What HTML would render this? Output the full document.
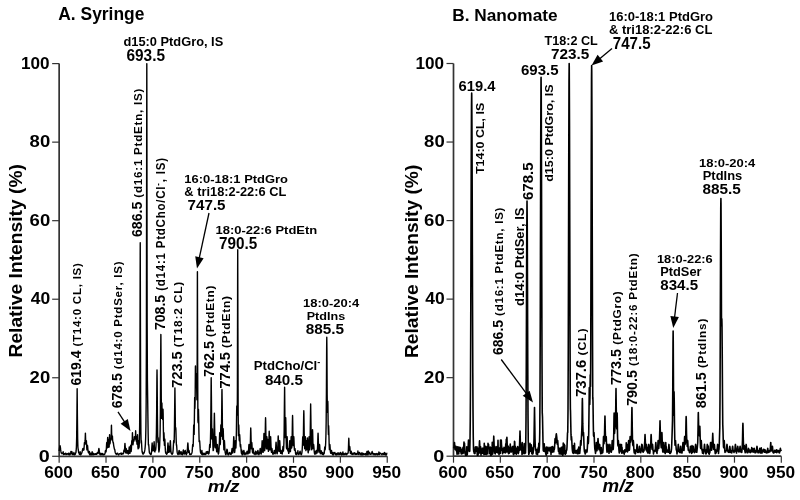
<!DOCTYPE html><html><head><meta charset="utf-8"><style>

html,body{margin:0;padding:0;background:#fff;width:800px;height:500px;overflow:hidden;}
.t{position:absolute;left:0;top:0;white-space:nowrap;font-family:"Liberation Sans",sans-serif;font-weight:bold;line-height:1;color:#000;transform-origin:0 0;}
.sp{font-size:0.7em;position:relative;top:-0.55em;}
svg{position:absolute;left:0;top:0;}

</style></head><body>
<svg width="800" height="500" viewBox="0 0 800 500">
<path d="M59.15 63.60 L59.15 456.30 L387.24 456.30" fill="none" stroke="#333" stroke-width="1.7"/>
<line x1="52.15" y1="456.30" x2="59.15" y2="456.30" stroke="#333" stroke-width="1.2"/>
<line x1="52.15" y1="377.76" x2="59.15" y2="377.76" stroke="#333" stroke-width="1.2"/>
<line x1="52.15" y1="299.22" x2="59.15" y2="299.22" stroke="#333" stroke-width="1.2"/>
<line x1="52.15" y1="220.68" x2="59.15" y2="220.68" stroke="#333" stroke-width="1.2"/>
<line x1="52.15" y1="142.14" x2="59.15" y2="142.14" stroke="#333" stroke-width="1.2"/>
<line x1="52.15" y1="63.60" x2="59.15" y2="63.60" stroke="#333" stroke-width="1.2"/>
<line x1="59.15" y1="456.30" x2="59.15" y2="462.80" stroke="#333" stroke-width="1.2"/>
<line x1="106.02" y1="456.30" x2="106.02" y2="462.80" stroke="#333" stroke-width="1.2"/>
<line x1="152.89" y1="456.30" x2="152.89" y2="462.80" stroke="#333" stroke-width="1.2"/>
<line x1="199.76" y1="456.30" x2="199.76" y2="462.80" stroke="#333" stroke-width="1.2"/>
<line x1="246.63" y1="456.30" x2="246.63" y2="462.80" stroke="#333" stroke-width="1.2"/>
<line x1="293.50" y1="456.30" x2="293.50" y2="462.80" stroke="#333" stroke-width="1.2"/>
<line x1="340.37" y1="456.30" x2="340.37" y2="462.80" stroke="#333" stroke-width="1.2"/>
<line x1="387.24" y1="456.30" x2="387.24" y2="462.80" stroke="#333" stroke-width="1.2"/>
<path d="M453.50 63.50 L453.50 456.20 L781.31 456.20" fill="none" stroke="#333" stroke-width="1.7"/>
<line x1="446.50" y1="456.20" x2="453.50" y2="456.20" stroke="#333" stroke-width="1.2"/>
<line x1="446.50" y1="377.66" x2="453.50" y2="377.66" stroke="#333" stroke-width="1.2"/>
<line x1="446.50" y1="299.12" x2="453.50" y2="299.12" stroke="#333" stroke-width="1.2"/>
<line x1="446.50" y1="220.58" x2="453.50" y2="220.58" stroke="#333" stroke-width="1.2"/>
<line x1="446.50" y1="142.04" x2="453.50" y2="142.04" stroke="#333" stroke-width="1.2"/>
<line x1="446.50" y1="63.50" x2="453.50" y2="63.50" stroke="#333" stroke-width="1.2"/>
<line x1="453.50" y1="456.20" x2="453.50" y2="462.70" stroke="#333" stroke-width="1.2"/>
<line x1="500.33" y1="456.20" x2="500.33" y2="462.70" stroke="#333" stroke-width="1.2"/>
<line x1="547.16" y1="456.20" x2="547.16" y2="462.70" stroke="#333" stroke-width="1.2"/>
<line x1="593.99" y1="456.20" x2="593.99" y2="462.70" stroke="#333" stroke-width="1.2"/>
<line x1="640.82" y1="456.20" x2="640.82" y2="462.70" stroke="#333" stroke-width="1.2"/>
<line x1="687.65" y1="456.20" x2="687.65" y2="462.70" stroke="#333" stroke-width="1.2"/>
<line x1="734.48" y1="456.20" x2="734.48" y2="462.70" stroke="#333" stroke-width="1.2"/>
<line x1="781.31" y1="456.20" x2="781.31" y2="462.70" stroke="#333" stroke-width="1.2"/>
<path d="M59.15 451.00 L59.40 449.21 L59.65 447.21 L59.90 445.83 L59.99 445.70 L60.15 446.05 L60.40 447.69 L60.65 449.69 L60.90 451.38 L61.15 452.62 L61.40 453.17 L61.65 453.27 L61.90 453.73 L62.15 453.34 L62.40 453.16 L62.43 453.16 L62.65 453.27 L62.90 453.62 L63.15 451.78 L63.40 453.94 L63.65 454.60 L63.90 453.41 L64.15 454.34 L64.40 453.67 L64.65 454.18 L64.90 453.74 L65.15 453.89 L65.40 453.43 L65.65 453.12 L65.90 453.52 L66.15 454.62 L66.40 453.68 L66.65 454.26 L66.90 454.03 L67.15 454.00 L67.40 453.92 L67.65 453.68 L67.90 453.88 L68.15 454.62 L68.40 453.19 L68.65 453.97 L68.90 454.52 L69.15 453.24 L69.40 454.11 L69.65 453.96 L69.90 454.92 L70.15 453.48 L70.40 453.62 L70.65 454.01 L70.90 451.44 L71.15 453.92 L71.40 453.20 L71.65 451.92 L71.81 451.59 L71.90 451.72 L72.15 452.88 L72.40 454.08 L72.65 454.61 L72.90 453.40 L73.15 453.52 L73.40 454.47 L73.65 453.74 L73.90 452.52 L74.15 454.48 L74.40 453.82 L74.65 454.80 L74.90 453.99 L75.15 454.44 L75.40 454.12 L75.65 452.87 L75.90 452.61 L76.15 450.70 L76.40 446.94 L76.65 438.32 L76.90 416.19 L77.15 388.76 L77.15 388.76 L77.40 416.69 L77.65 438.52 L77.90 447.03 L78.15 449.26 L78.18 449.23 L78.40 450.52 L78.65 452.78 L78.90 452.87 L79.15 453.22 L79.40 454.38 L79.65 454.38 L79.90 453.61 L80.15 451.72 L80.40 454.86 L80.65 453.23 L80.90 454.62 L81.15 453.20 L81.40 453.82 L81.65 453.23 L81.90 452.47 L82.15 451.53 L82.40 450.43 L82.65 449.34 L82.90 448.59 L83.05 448.45 L83.15 448.50 L83.40 449.13 L83.65 450.17 L83.90 449.84 L84.15 446.73 L84.40 442.78 L84.46 442.56 L84.65 444.50 L84.90 443.65 L85.15 440.15 L85.40 433.13 L85.40 433.13 L85.65 440.37 L85.90 443.68 L86.15 443.12 L86.33 440.59 L86.40 440.96 L86.65 446.22 L86.90 449.87 L87.15 447.86 L87.40 445.43 L87.46 445.30 L87.65 446.44 L87.90 449.49 L88.15 451.91 L88.40 452.51 L88.65 451.60 L88.68 451.59 L88.90 452.22 L89.15 453.53 L89.40 451.36 L89.65 454.76 L89.90 452.61 L90.15 453.18 L90.40 454.72 L90.65 454.50 L90.90 454.74 L91.15 454.26 L91.40 453.32 L91.65 454.48 L91.90 454.75 L92.15 451.77 L92.40 454.40 L92.65 454.13 L92.90 454.81 L93.15 453.21 L93.40 454.73 L93.65 453.83 L93.90 453.97 L94.15 453.76 L94.40 453.97 L94.65 454.49 L94.90 454.43 L95.15 454.13 L95.40 453.79 L95.65 454.24 L95.90 454.35 L96.15 453.43 L96.40 454.39 L96.65 453.96 L96.90 453.87 L97.15 453.84 L97.40 452.75 L97.58 452.37 L97.65 452.43 L97.90 453.32 L98.15 453.45 L98.40 451.88 L98.65 449.71 L98.90 448.45 L98.90 448.45 L99.15 449.78 L99.40 451.95 L99.65 453.49 L99.90 454.41 L100.15 454.68 L100.40 454.87 L100.65 453.33 L100.90 453.32 L101.15 453.61 L101.40 454.61 L101.65 454.65 L101.90 453.75 L102.15 454.81 L102.40 453.50 L102.65 453.97 L102.90 454.12 L103.15 454.33 L103.40 454.88 L103.65 454.19 L103.90 454.82 L104.15 454.68 L104.40 454.47 L104.65 454.22 L104.90 453.78 L105.15 452.40 L105.40 450.81 L105.55 450.41 L105.65 450.59 L105.90 452.05 L106.15 451.30 L106.40 447.83 L106.65 443.40 L106.77 442.56 L106.90 443.54 L107.15 448.01 L107.40 443.99 L107.65 437.79 L107.71 437.45 L107.90 440.70 L108.15 447.33 L108.40 444.73 L108.64 439.81 L108.65 439.81 L108.90 445.03 L109.15 447.02 L109.40 438.82 L109.58 434.70 L109.65 435.39 L109.90 443.73 L110.15 442.71 L110.40 440.26 L110.52 438.63 L110.65 440.54 L110.90 439.74 L111.15 439.13 L111.40 426.18 L111.46 425.28 L111.64 432.89 L111.65 433.26 L111.90 438.76 L112.15 439.15 L112.39 435.88 L112.40 435.88 L112.65 440.61 L112.90 441.62 L113.15 442.76 L113.33 442.56 L113.40 442.84 L113.65 445.29 L113.90 446.58 L114.15 447.85 L114.40 449.06 L114.64 449.23 L114.65 449.23 L114.90 450.44 L115.15 452.13 L115.40 452.93 L115.65 453.50 L115.90 453.96 L116.15 453.41 L116.40 453.92 L116.65 454.42 L116.90 453.50 L117.15 453.61 L117.40 453.22 L117.65 453.21 L117.90 454.04 L118.15 454.38 L118.40 454.29 L118.65 454.92 L118.90 454.13 L119.15 454.22 L119.40 453.72 L119.65 453.78 L119.90 453.69 L120.15 453.87 L120.40 453.46 L120.65 453.18 L120.90 453.45 L121.15 453.61 L121.40 454.39 L121.65 453.83 L121.90 453.07 L122.15 454.17 L122.40 453.40 L122.65 453.63 L122.90 453.60 L123.15 453.61 L123.40 453.78 L123.65 452.41 L123.90 450.39 L124.02 450.02 L124.15 450.48 L124.40 451.56 L124.65 447.80 L124.90 443.56 L124.95 443.34 L125.15 445.61 L125.40 450.16 L125.65 452.81 L125.90 450.78 L126.15 448.47 L126.17 448.45 L126.40 450.20 L126.65 452.84 L126.90 453.25 L127.15 453.10 L127.40 451.17 L127.58 450.41 L127.65 450.54 L127.90 451.84 L128.15 453.92 L128.40 454.02 L128.65 453.30 L128.90 450.94 L129.15 447.55 L129.27 446.88 L129.40 447.72 L129.65 451.13 L129.90 453.39 L130.15 451.97 L130.40 448.56 L130.65 445.34 L130.67 445.30 L130.90 447.76 L131.15 451.47 L131.40 448.92 L131.65 442.72 L131.80 440.59 L131.90 441.66 L132.15 443.65 L132.40 433.37 L132.46 432.74 L132.65 438.90 L132.90 444.83 L133.15 443.71 L133.39 439.81 L133.40 439.82 L133.65 441.63 L133.90 440.73 L134.15 439.96 L134.33 436.67 L134.40 437.53 L134.65 438.92 L134.90 438.68 L135.08 438.63 L135.15 438.64 L135.40 438.79 L135.64 430.77 L135.65 430.79 L135.90 439.68 L136.15 440.38 L136.40 441.18 L136.58 436.67 L136.65 437.54 L136.90 443.23 L137.15 444.34 L137.40 437.13 L137.52 434.70 L137.65 437.76 L137.90 447.17 L138.15 448.81 L138.40 442.70 L138.55 440.59 L138.65 441.68 L138.90 447.96 L139.15 446.63 L139.40 440.47 L139.65 426.36 L139.90 385.38 L140.15 267.21 L140.24 242.67 L140.40 312.66 L140.65 404.00 L140.90 432.36 L141.15 442.95 L141.36 440.59 L141.40 440.71 L141.65 444.94 L141.90 449.55 L142.15 452.21 L142.40 451.56 L142.65 453.88 L142.90 453.86 L143.15 452.89 L143.40 454.13 L143.65 453.37 L143.90 453.33 L144.15 452.74 L144.40 451.97 L144.65 450.92 L144.90 449.43 L145.15 447.24 L145.40 443.82 L145.65 438.06 L145.90 427.33 L146.15 404.17 L146.40 342.77 L146.65 162.55 L146.80 63.60 L146.90 119.49 L147.08 280.48 L147.15 323.02 L147.40 379.70 L147.64 396.50 L147.65 397.21 L147.90 416.87 L148.15 433.55 L148.40 444.94 L148.65 444.54 L148.67 444.52 L148.90 446.78 L149.15 450.53 L149.40 452.62 L149.65 453.18 L149.90 453.45 L150.15 453.98 L150.40 453.46 L150.65 454.61 L150.90 454.00 L151.15 454.25 L151.40 453.03 L151.65 450.62 L151.90 446.21 L152.14 442.95 L152.15 442.96 L152.40 446.62 L152.65 450.88 L152.90 449.85 L153.15 446.51 L153.17 446.48 L153.40 449.15 L153.65 450.48 L153.90 445.20 L154.11 441.77 L154.15 441.94 L154.40 447.24 L154.65 451.59 L154.90 451.91 L155.15 448.82 L155.23 448.45 L155.40 449.74 L155.65 450.23 L155.90 447.52 L156.15 442.62 L156.40 432.86 L156.65 411.89 L156.90 377.28 L157.01 369.91 L157.15 379.88 L157.40 414.29 L157.65 433.99 L157.90 442.34 L158.14 437.84 L158.15 437.85 L158.40 442.94 L158.65 448.81 L158.90 451.96 L159.15 450.70 L159.40 448.75 L159.65 445.60 L159.90 438.33 L160.01 436.23 L160.15 429.63 L160.40 407.44 L160.65 363.19 L160.86 334.56 L160.90 336.08 L161.15 380.54 L161.40 416.91 L161.65 418.33 L161.89 402.89 L161.90 402.94 L162.15 413.12 L162.17 413.10 L162.40 414.68 L162.65 419.55 L162.90 412.38 L163.01 409.18 L163.15 413.62 L163.40 430.66 L163.65 440.70 L163.90 433.08 L163.95 432.74 L164.15 437.02 L164.40 445.25 L164.65 440.85 L164.79 439.02 L164.90 440.03 L165.15 446.19 L165.40 450.65 L165.65 452.92 L165.90 453.27 L166.15 453.74 L166.40 453.29 L166.65 454.25 L166.90 453.52 L167.15 453.57 L167.40 451.70 L167.65 448.06 L167.90 443.44 L167.98 442.95 L168.15 444.77 L168.40 449.56 L168.65 452.35 L168.90 448.78 L169.11 446.48 L169.15 446.61 L169.40 450.20 L169.65 451.89 L169.90 448.52 L170.15 442.91 L170.33 440.59 L170.40 441.07 L170.65 446.43 L170.90 450.80 L171.15 453.04 L171.40 453.45 L171.65 453.84 L171.90 453.95 L172.15 454.31 L172.40 453.21 L172.65 453.69 L172.90 452.29 L173.15 449.70 L173.40 445.16 L173.65 440.77 L173.70 440.59 L173.90 443.01 L174.15 442.11 L174.40 431.34 L174.65 409.71 L174.90 388.13 L174.92 387.97 L175.15 405.48 L175.40 428.89 L175.65 429.20 L175.76 427.63 L175.90 429.90 L176.15 439.27 L176.40 445.16 L176.51 444.52 L176.65 445.45 L176.90 449.30 L177.15 452.17 L177.40 453.21 L177.65 453.97 L177.90 453.58 L178.15 454.52 L178.40 453.68 L178.65 452.93 L178.90 451.30 L179.14 450.41 L179.15 450.41 L179.40 451.47 L179.65 453.08 L179.90 454.23 L180.15 454.09 L180.40 453.86 L180.65 452.97 L180.90 451.77 L181.01 451.59 L181.15 451.86 L181.40 453.11 L181.65 454.24 L181.90 454.34 L182.15 454.68 L182.40 454.68 L182.65 453.68 L182.90 452.51 L183.15 450.76 L183.36 450.02 L183.40 450.06 L183.65 451.37 L183.90 453.06 L184.15 454.20 L184.40 453.18 L184.65 453.45 L184.90 451.92 L185.15 450.53 L185.23 450.41 L185.40 450.90 L185.65 452.52 L185.90 453.86 L186.15 454.35 L186.40 454.68 L186.65 453.28 L186.90 453.71 L187.15 452.21 L187.40 449.43 L187.65 445.09 L187.85 442.95 L187.90 443.07 L188.15 446.74 L188.40 450.62 L188.65 452.36 L188.90 450.58 L188.98 450.41 L189.15 451.10 L189.40 453.03 L189.65 454.36 L189.90 454.62 L190.15 454.16 L190.40 454.48 L190.65 453.99 L190.90 454.21 L191.15 454.27 L191.40 453.96 L191.65 453.43 L191.90 452.75 L192.15 451.64 L192.40 448.42 L192.65 444.85 L192.73 444.52 L192.90 445.90 L193.15 446.15 L193.40 438.15 L193.65 426.91 L193.76 424.88 L193.90 427.98 L194.15 434.39 L194.40 417.01 L194.65 398.15 L194.70 397.40 L194.90 408.38 L195.15 398.87 L195.40 367.30 L195.45 365.98 L195.65 384.81 L195.90 387.77 L196.15 379.15 L196.29 377.76 L196.38 373.83 L196.40 373.95 L196.65 386.24 L196.90 399.78 L197.15 375.09 L197.40 272.63 L197.42 271.73 L197.65 362.94 L197.90 420.73 L198.15 422.72 L198.40 409.66 L198.45 409.18 L198.65 416.58 L198.90 431.90 L199.15 441.78 L199.40 441.94 L199.57 440.59 L199.65 440.88 L199.90 444.57 L200.15 448.65 L200.40 451.34 L200.65 452.94 L200.90 451.89 L201.15 453.35 L201.40 453.79 L201.65 454.32 L201.90 450.38 L202.15 454.25 L202.40 454.62 L202.65 454.75 L202.90 453.21 L203.15 453.54 L203.40 454.09 L203.65 453.56 L203.90 454.58 L204.15 453.97 L204.40 453.29 L204.45 454.34 L204.65 454.42 L204.90 454.50 L205.15 454.60 L205.40 453.75 L205.65 454.42 L205.90 453.21 L206.15 452.01 L206.40 453.81 L206.65 453.31 L206.90 451.71 L207.15 453.19 L207.40 452.78 L207.65 451.68 L207.73 451.59 L207.90 451.99 L208.15 453.29 L208.40 454.02 L208.65 453.52 L208.90 453.65 L209.15 452.53 L209.40 449.05 L209.65 444.70 L209.70 444.52 L209.90 447.20 L210.15 447.36 L210.40 442.05 L210.65 431.15 L210.90 407.95 L211.15 378.94 L211.20 377.76 L211.40 395.66 L211.65 424.43 L211.90 438.93 L212.15 437.96 L212.40 428.85 L212.41 428.81 L212.65 436.57 L212.90 446.02 L213.15 450.62 L213.40 450.33 L213.65 446.64 L213.90 439.07 L214.15 424.34 L214.38 413.10 L214.40 413.18 L214.65 426.68 L214.90 440.43 L215.15 447.28 L215.40 447.81 L215.65 441.26 L215.88 436.67 L215.90 436.70 L216.15 442.27 L216.40 448.45 L216.65 451.74 L216.90 450.59 L217.15 446.86 L217.38 444.52 L217.40 444.53 L217.65 447.40 L217.90 450.98 L218.15 453.10 L218.40 454.14 L218.65 453.16 L218.90 451.43 L219.15 448.09 L219.40 441.57 L219.65 433.49 L219.73 432.74 L219.90 436.14 L220.15 444.56 L220.40 442.73 L220.65 431.40 L220.85 424.88 L220.90 425.35 L221.15 436.35 L221.40 435.06 L221.65 416.73 L221.90 391.96 L221.98 389.54 L222.15 400.41 L222.40 425.36 L222.65 439.30 L222.90 438.69 L223.15 429.17 L223.19 428.81 L223.40 434.67 L223.65 444.53 L223.90 449.77 L224.15 445.00 L224.40 440.61 L224.41 440.59 L224.65 444.35 L224.90 449.56 L225.15 452.42 L225.40 453.29 L225.65 454.66 L225.90 454.71 L226.15 453.94 L226.40 452.65 L226.65 450.75 L226.90 449.28 L226.94 449.23 L227.15 450.06 L227.40 450.71 L227.65 453.55 L227.90 454.48 L228.15 453.32 L228.40 454.85 L228.65 453.18 L228.90 454.23 L229.15 453.52 L229.40 453.50 L229.65 452.51 L229.76 452.37 L229.90 452.61 L230.15 453.32 L230.40 454.17 L230.65 454.36 L230.90 453.88 L231.15 454.43 L231.40 453.53 L231.65 452.22 L231.90 449.66 L232.10 448.45 L232.15 448.53 L232.40 450.73 L232.65 452.99 L232.90 452.68 L233.15 450.32 L233.40 445.65 L233.65 438.55 L233.79 436.67 L233.90 437.97 L234.15 445.00 L234.40 449.98 L234.65 452.51 L234.90 450.37 L235.15 444.92 L235.38 440.59 L235.40 440.63 L235.65 445.92 L235.90 448.03 L236.15 442.42 L236.40 430.75 L236.65 411.48 L236.79 406.03 L236.90 409.84 L237.15 415.06 L237.35 401.57 L237.40 389.30 L237.65 270.25 L237.72 249.74 L237.90 327.77 L238.15 411.14 L238.40 435.66 L238.65 426.74 L238.76 424.88 L238.90 428.17 L239.15 439.53 L239.40 440.78 L239.65 434.88 L239.69 434.70 L239.90 438.22 L240.15 445.22 L240.40 446.82 L240.63 444.52 L240.65 444.54 L240.90 447.44 L241.15 451.01 L241.40 453.11 L241.65 453.65 L241.90 450.19 L242.15 454.87 L242.40 451.55 L242.65 454.78 L242.90 454.69 L243.15 453.86 L243.40 452.50 L243.65 450.89 L243.82 450.41 L243.90 450.53 L244.15 451.93 L244.40 453.28 L244.65 454.02 L244.90 454.74 L245.15 453.75 L245.40 454.16 L245.65 453.00 L245.90 453.69 L246.15 453.24 L246.40 453.93 L246.65 453.18 L246.90 451.76 L247.10 451.19 L247.15 451.24 L247.40 452.33 L247.65 453.70 L247.90 453.93 L248.15 453.85 L248.40 452.16 L248.65 448.88 L248.90 444.87 L248.97 444.52 L249.15 446.27 L249.40 450.47 L249.65 453.00 L249.90 451.74 L250.15 448.45 L250.40 441.37 L250.65 430.07 L250.75 428.03 L250.90 431.72 L251.15 442.91 L251.40 448.81 L251.65 443.84 L251.79 442.56 L251.90 443.50 L252.15 448.43 L252.40 451.90 L252.65 452.94 L252.90 450.64 L253.15 448.51 L253.19 448.45 L253.40 449.74 L253.65 452.28 L253.90 453.91 L254.15 452.77 L254.40 453.27 L254.65 453.83 L254.90 454.50 L255.15 454.55 L255.40 453.18 L255.65 451.16 L255.90 451.74 L256.00 451.59 L256.15 451.89 L256.40 453.15 L256.65 454.02 L256.90 453.86 L257.15 454.10 L257.40 452.88 L257.65 451.25 L257.88 450.41 L257.90 450.42 L258.15 451.52 L258.40 453.13 L258.65 454.25 L258.90 454.74 L259.15 454.02 L259.40 453.30 L259.65 453.15 L259.90 450.97 L260.15 448.63 L260.22 448.45 L260.40 449.43 L260.65 452.01 L260.90 453.76 L261.15 454.08 L261.40 452.82 L261.65 450.36 L261.90 445.65 L262.15 440.74 L262.19 440.59 L262.40 443.69 L262.65 449.11 L262.90 452.19 L263.15 452.38 L263.40 449.45 L263.65 443.19 L263.90 434.33 L263.97 433.52 L264.15 437.72 L264.40 446.41 L264.65 450.77 L264.90 447.03 L265.15 439.03 L265.40 424.09 L265.56 417.82 L265.65 419.68 L265.90 434.87 L266.15 445.08 L266.40 448.82 L266.65 441.96 L266.88 436.67 L266.90 436.73 L267.15 443.44 L267.40 448.72 L267.65 442.16 L267.81 439.41 L267.90 440.23 L268.15 446.90 L268.40 451.38 L268.65 448.21 L268.90 441.22 L269.15 431.97 L269.22 431.17 L269.40 435.46 L269.65 444.80 L269.90 449.97 L270.15 448.35 L270.40 441.58 L270.63 436.67 L270.65 436.73 L270.90 443.03 L271.15 449.19 L271.40 452.25 L271.65 450.62 L271.90 448.50 L271.94 448.45 L272.15 449.76 L272.40 452.30 L272.65 453.64 L272.90 454.30 L273.15 454.03 L273.40 453.41 L273.65 453.82 L273.90 452.77 L274.15 450.85 L274.28 450.41 L274.40 450.75 L274.65 452.65 L274.90 453.43 L275.15 453.82 L275.40 452.24 L275.65 449.11 L275.90 444.03 L276.06 442.16 L276.15 442.72 L276.40 447.64 L276.65 451.47 L276.90 453.43 L277.15 453.87 L277.40 452.48 L277.65 449.71 L277.90 444.01 L278.15 436.51 L278.22 435.88 L278.40 439.40 L278.65 446.98 L278.90 451.17 L279.15 451.23 L279.40 446.85 L279.65 441.08 L279.72 440.59 L279.90 443.30 L280.15 449.13 L280.40 452.19 L280.65 453.40 L280.90 451.52 L281.13 450.41 L281.15 450.42 L281.40 451.91 L281.65 453.16 L281.90 453.35 L282.15 454.08 L282.40 452.73 L282.65 450.50 L282.90 447.02 L283.00 446.48 L283.15 447.57 L283.40 451.12 L283.65 448.48 L283.90 443.10 L284.15 431.04 L284.40 404.45 L284.60 387.18 L284.65 388.99 L284.90 418.29 L285.15 437.66 L285.40 434.01 L285.65 419.10 L285.72 417.82 L285.90 425.05 L286.15 439.70 L286.40 447.34 L286.65 448.78 L286.90 441.89 L287.13 436.67 L287.15 436.75 L287.40 443.51 L287.65 449.66 L287.90 450.95 L288.15 448.45 L288.16 448.45 L288.40 450.77 L288.65 453.42 L288.90 453.20 L289.15 451.11 L289.40 447.01 L289.65 441.43 L289.75 440.59 L289.90 442.35 L290.15 448.02 L290.40 451.64 L290.65 448.26 L290.90 441.97 L291.15 436.67 L291.16 436.67 L291.40 441.57 L291.65 448.01 L291.90 446.39 L292.15 437.83 L292.40 421.92 L292.56 415.46 L292.65 417.56 L292.90 433.73 L293.15 444.48 L293.40 445.49 L293.65 438.40 L293.78 436.67 L293.90 438.11 L294.15 445.17 L294.40 450.07 L294.65 450.25 L294.90 448.45 L294.91 448.45 L295.15 450.12 L295.40 451.18 L295.65 454.07 L295.90 454.14 L296.15 454.13 L296.40 454.58 L296.65 453.20 L296.90 453.07 L297.15 452.44 L297.25 452.37 L297.40 452.52 L297.65 453.24 L297.90 450.60 L298.15 454.52 L298.40 454.15 L298.65 453.27 L298.90 453.28 L299.15 454.03 L299.40 453.97 L299.65 452.98 L299.90 451.59 L300.06 451.19 L300.15 451.32 L300.40 452.55 L300.65 453.49 L300.90 454.12 L301.15 454.74 L301.40 454.62 L301.65 453.90 L301.90 452.63 L302.15 450.23 L302.40 445.47 L302.65 438.37 L302.78 436.67 L302.90 438.13 L303.15 445.20 L303.40 435.63 L303.65 417.87 L303.81 410.75 L303.90 413.16 L304.15 431.21 L304.40 443.15 L304.65 448.71 L304.90 447.39 L305.15 439.73 L305.31 436.67 L305.40 437.71 L305.65 445.49 L305.90 450.63 L306.15 446.37 L306.40 440.74 L306.44 440.59 L306.65 444.45 L306.90 449.19 L307.15 442.68 L307.37 437.84 L307.40 437.93 L307.65 444.34 L307.90 450.09 L308.15 452.81 L308.40 451.52 L308.65 447.38 L308.90 439.72 L309.06 436.67 L309.15 437.72 L309.40 445.50 L309.65 449.91 L309.90 445.95 L310.15 437.71 L310.40 420.54 L310.65 404.08 L310.65 404.07 L310.90 419.75 L311.15 437.29 L311.40 445.76 L311.65 449.81 L311.90 448.79 L312.15 442.45 L312.40 432.19 L312.53 429.60 L312.65 431.89 L312.90 442.15 L313.15 448.64 L313.40 447.20 L313.65 444.52 L313.65 444.52 L313.90 447.06 L314.15 450.74 L314.40 452.97 L314.65 454.16 L314.90 452.82 L315.15 453.99 L315.40 453.65 L315.65 451.13 L315.90 453.91 L316.15 452.25 L316.40 450.53 L316.47 450.41 L316.65 451.19 L316.90 453.13 L317.15 452.65 L317.40 450.22 L317.65 445.18 L317.90 436.41 L318.06 433.13 L318.15 434.28 L318.40 443.03 L318.65 449.16 L318.90 452.13 L319.15 450.24 L319.40 446.00 L319.56 444.52 L319.65 445.03 L319.90 449.16 L320.15 452.32 L320.40 453.76 L320.65 453.25 L320.90 451.73 L321.15 450.80 L321.15 450.80 L321.40 451.69 L321.65 453.21 L321.90 453.80 L322.15 454.25 L322.40 454.42 L322.65 452.38 L322.90 453.19 L323.15 454.10 L323.40 454.71 L323.65 453.73 L323.90 453.79 L324.15 453.56 L324.40 451.44 L324.65 448.05 L324.81 446.88 L324.90 447.29 L325.15 449.72 L325.40 447.32 L325.65 443.37 L325.90 436.37 L326.15 422.71 L326.40 394.34 L326.65 348.64 L326.78 337.31 L326.90 347.78 L327.15 393.48 L327.15 393.96 L327.40 412.41 L327.65 409.02 L327.81 401.32 L327.90 404.12 L328.15 424.90 L328.40 434.60 L328.65 425.67 L328.65 425.67 L328.90 434.35 L329.15 444.50 L329.40 449.65 L329.65 447.06 L329.87 444.52 L329.90 444.57 L330.15 448.10 L330.40 451.72 L330.65 453.21 L330.90 453.37 L331.15 451.81 L331.40 450.49 L331.46 450.41 L331.65 450.99 L331.90 452.62 L332.15 453.93 L332.40 453.32 L332.65 454.70 L332.90 453.98 L333.15 452.37 L333.40 454.90 L333.65 453.23 L333.90 453.93 L334.15 453.71 L334.40 453.45 L334.65 452.48 L334.75 452.37 L334.90 452.65 L335.15 453.71 L335.40 454.23 L335.65 454.85 L335.90 454.39 L336.15 454.64 L336.40 453.40 L336.65 454.30 L336.90 453.93 L337.15 454.69 L337.40 454.22 L337.65 453.48 L337.90 452.86 L338.03 452.77 L338.15 452.86 L338.40 453.47 L338.65 454.21 L338.90 454.80 L339.15 453.47 L339.40 453.43 L339.65 454.30 L339.90 453.18 L340.15 452.89 L340.37 452.37 L340.40 452.38 L340.65 453.15 L340.90 454.22 L341.15 453.19 L341.40 454.74 L341.65 453.34 L341.90 454.92 L342.15 453.55 L342.40 453.17 L342.65 453.51 L342.90 451.84 L343.15 454.12 L343.40 454.69 L343.65 453.78 L343.90 453.69 L344.15 454.01 L344.40 454.50 L344.65 454.61 L344.90 453.79 L345.15 453.35 L345.40 453.95 L345.65 453.59 L345.90 453.25 L346.15 454.70 L346.40 453.84 L346.65 454.57 L346.90 453.87 L347.15 453.46 L347.40 453.54 L347.65 453.66 L347.90 453.26 L348.15 452.69 L348.40 449.18 L348.65 441.59 L348.81 438.24 L348.90 439.59 L349.15 447.68 L349.40 450.40 L349.65 446.95 L349.74 446.48 L349.90 447.66 L350.15 451.20 L350.40 453.43 L350.65 453.45 L350.90 452.04 L351.15 451.19 L351.40 452.04 L351.65 453.45 L351.90 454.38 L352.15 453.83 L352.40 453.41 L352.65 453.82 L352.90 454.48 L353.15 453.18 L353.40 453.69 L353.65 453.17 L353.90 453.95 L354.15 453.20 L354.40 452.77 L354.43 452.77 L354.65 453.04 L354.90 453.76 L355.15 454.46 L355.40 453.95 L355.65 453.42 L355.90 454.37 L356.15 453.87 L356.40 453.53 L356.65 454.38 L356.90 453.80 L357.15 453.52 L357.40 454.05 L357.65 454.00 L357.90 450.95 L358.15 454.12 L358.40 454.46 L358.65 453.76 L358.90 453.04 L359.12 452.77 L359.15 452.77 L359.40 452.42 L359.65 452.96 L359.90 454.13 L360.15 454.49 L360.40 454.58 L360.65 453.32 L360.90 453.71 L361.15 454.88 L361.40 454.87 L361.65 454.09 L361.90 452.81 L362.15 454.90 L362.40 453.31 L362.65 453.97 L362.90 454.91 L363.15 454.47 L363.40 453.38 L363.65 453.98 L363.81 453.94 L363.90 453.97 L364.15 454.22 L364.40 454.40 L364.65 454.37 L364.90 454.22 L365.15 453.64 L365.40 453.46 L365.65 454.81 L365.90 454.69 L366.15 454.24 L366.40 454.85 L366.65 453.68 L366.90 451.53 L367.15 454.59 L367.40 453.98 L367.65 454.77 L367.90 454.83 L368.15 450.84 L368.40 451.60 L368.49 454.09 L368.65 454.09 L368.90 453.48 L369.15 453.49 L369.40 453.21 L369.65 452.32 L369.90 454.09 L370.15 454.28 L370.40 453.90 L370.65 454.14 L370.90 454.30 L371.15 453.92 L371.40 453.83 L371.65 453.71 L371.90 452.18 L372.15 451.49 L372.40 453.33 L372.65 453.58 L372.90 454.12 L373.15 453.36 L373.18 453.94 L373.40 454.07 L373.65 453.57 L373.90 454.70 L374.15 453.71 L374.40 453.64 L374.65 454.25 L374.90 454.48 L375.15 454.88 L375.40 453.82 L375.65 454.54 L375.90 454.62 L376.15 453.80 L376.40 454.13 L376.65 454.09 L376.90 453.45 L377.15 453.93 L377.40 454.73 L377.65 454.38 L377.87 453.83 L377.90 453.83 L378.15 454.50 L378.40 454.51 L378.65 454.31 L378.90 452.06 L379.15 454.23 L379.40 454.52 L379.65 452.93 L379.90 453.83 L380.15 453.45 L380.40 453.27 L380.65 453.21 L380.90 453.44 L381.15 453.66 L381.40 454.02 L381.65 454.33 L381.90 454.79 L382.15 453.60 L382.40 454.16 L382.55 454.03 L382.65 454.03 L382.90 454.04 L383.15 453.17 L383.40 454.42 L383.65 453.68 L383.90 453.95 L384.15 454.29 L384.40 453.36 L384.65 452.46 L384.90 454.46 L385.15 454.64 L385.40 453.51 L385.65 454.90 L385.90 454.73 L386.15 454.25 L386.40 454.76 L386.65 453.77 L386.90 453.34 L387.15 453.61" fill="none" stroke="#000" stroke-width="1.4" stroke-linejoin="round"/>
<path d="M453.50 447.16 L453.75 447.71 L454.00 447.63 L454.25 443.82 L454.44 442.46 L454.50 442.63 L454.75 445.72 L455.00 449.35 L455.25 446.82 L455.50 449.79 L455.75 446.74 L455.84 446.38 L456.00 447.39 L456.25 450.62 L456.50 450.87 L456.75 450.57 L457.00 454.23 L457.25 446.79 L457.50 453.84 L457.75 448.53 L458.00 447.58 L458.25 448.59 L458.50 446.94 L458.75 454.02 L459.00 449.24 L459.25 450.83 L459.50 447.42 L459.75 448.23 L460.00 447.79 L460.25 451.43 L460.50 447.46 L460.75 451.21 L461.00 452.61 L461.25 453.98 L461.50 453.10 L461.75 452.74 L462.00 449.31 L462.25 450.94 L462.50 450.34 L462.75 453.62 L463.00 447.34 L463.25 453.32 L463.50 449.14 L463.75 446.17 L463.99 442.06 L464.00 442.07 L464.25 446.66 L464.50 443.34 L464.75 448.04 L465.00 453.60 L465.25 451.76 L465.50 455.14 L465.75 453.93 L466.00 454.70 L466.25 455.20 L466.50 455.23 L466.75 446.80 L467.00 449.44 L467.25 454.84 L467.50 451.13 L467.75 450.10 L468.00 450.19 L468.25 444.66 L468.49 440.10 L468.50 440.12 L468.75 445.45 L469.00 447.96 L469.25 451.33 L469.50 449.71 L469.75 451.21 L470.00 442.03 L470.25 421.41 L470.50 382.31 L470.75 320.50 L471.00 240.72 L471.25 160.35 L471.50 104.97 L471.67 92.95 L471.75 95.64 L472.00 136.16 L472.25 210.57 L472.50 293.19 L472.75 362.66 L472.79 372.64 L473.00 409.79 L473.25 436.29 L473.50 448.81 L473.75 451.64 L474.00 451.76 L474.25 453.41 L474.50 450.92 L474.75 452.74 L475.00 453.58 L475.25 447.09 L475.50 451.67 L475.75 446.78 L476.00 450.07 L476.25 448.48 L476.50 450.93 L476.75 450.14 L477.00 446.92 L477.25 455.25 L477.50 454.54 L477.75 448.15 L478.00 455.28 L478.25 451.87 L478.50 453.62 L478.75 453.37 L479.00 451.19 L479.25 446.56 L479.50 441.04 L479.54 440.88 L479.75 444.61 L480.00 448.90 L480.25 452.88 L480.50 448.07 L480.75 447.12 L481.00 455.20 L481.25 448.70 L481.50 451.11 L481.75 451.47 L482.00 453.09 L482.25 451.29 L482.50 448.47 L482.75 448.19 L483.00 453.41 L483.25 453.17 L483.50 449.55 L483.75 450.35 L484.00 454.59 L484.25 443.19 L484.50 447.10 L484.75 446.87 L485.00 454.30 L485.25 453.41 L485.50 449.53 L485.75 446.21 L486.00 447.21 L486.25 454.58 L486.50 449.23 L486.75 447.68 L487.00 449.34 L487.25 446.82 L487.50 446.65 L487.75 453.99 L488.00 443.39 L488.25 448.62 L488.50 444.49 L488.53 444.42 L488.75 447.46 L489.00 447.10 L489.25 448.97 L489.50 448.83 L489.75 453.47 L490.00 451.94 L490.25 446.97 L490.50 455.31 L490.75 449.27 L491.00 449.80 L491.25 455.27 L491.50 449.11 L491.75 447.59 L492.00 454.55 L492.25 442.36 L492.50 443.40 L492.75 453.83 L493.00 451.66 L493.25 449.42 L493.50 443.15 L493.75 436.25 L493.77 436.17 L494.00 441.52 L494.25 448.54 L494.50 449.58 L494.75 453.11 L495.00 448.66 L495.25 453.91 L495.50 448.64 L495.75 449.58 L496.00 446.55 L496.25 452.12 L496.50 448.05 L496.75 447.06 L497.00 450.77 L497.25 451.59 L497.50 452.75 L497.75 451.23 L498.00 440.39 L498.25 452.79 L498.50 448.54 L498.75 452.02 L499.00 454.61 L499.25 452.04 L499.50 448.06 L499.75 449.98 L500.00 453.40 L500.25 453.41 L500.50 440.07 L500.75 450.65 L501.00 445.51 L501.25 440.13 L501.27 440.10 L501.50 444.60 L501.75 447.45 L502.00 449.89 L502.25 450.54 L502.50 453.78 L502.75 452.19 L503.00 448.55 L503.25 448.43 L503.50 451.96 L503.75 452.46 L504.00 447.42 L504.25 449.45 L504.50 449.00 L504.75 447.90 L505.00 448.90 L505.25 452.90 L505.50 449.62 L505.75 443.73 L506.00 452.36 L506.25 439.40 L506.50 447.06 L506.75 439.55 L506.89 437.35 L507.00 438.94 L507.25 446.50 L507.50 451.08 L507.75 452.05 L508.00 447.17 L508.25 446.18 L508.50 453.65 L508.75 451.78 L509.00 452.45 L509.25 453.34 L509.50 452.51 L509.75 447.54 L510.00 448.06 L510.25 444.17 L510.50 448.11 L510.75 448.78 L511.00 452.01 L511.25 452.03 L511.50 450.06 L511.75 448.18 L512.00 450.33 L512.25 446.91 L512.50 448.15 L512.75 451.86 L513.00 446.42 L513.25 454.31 L513.50 449.54 L513.75 454.75 L514.00 447.61 L514.25 451.12 L514.50 441.24 L514.75 442.04 L515.00 453.33 L515.25 446.25 L515.50 446.96 L515.75 448.31 L516.00 449.52 L516.25 454.21 L516.50 453.34 L516.75 451.73 L517.00 452.14 L517.25 448.00 L517.50 449.22 L517.75 446.58 L518.00 448.35 L518.25 453.60 L518.50 452.85 L518.75 451.72 L519.00 448.52 L519.25 450.56 L519.50 447.13 L519.75 438.75 L520.00 431.07 L520.00 431.07 L520.25 438.87 L520.50 447.20 L520.75 449.84 L521.00 449.00 L521.25 444.64 L521.50 448.30 L521.75 448.56 L522.00 454.48 L522.25 442.45 L522.50 446.97 L522.75 451.41 L523.00 453.61 L523.25 449.36 L523.50 447.62 L523.75 451.85 L524.00 449.19 L524.25 443.65 L524.50 453.06 L524.75 453.56 L525.00 450.77 L525.25 450.87 L525.50 452.97 L525.75 444.16 L526.00 420.68 L526.25 373.43 L526.50 303.78 L526.75 234.41 L527.00 201.20 L527.02 200.95 L527.25 224.54 L527.50 289.91 L527.75 361.88 L528.00 413.93 L528.25 441.23 L528.50 448.18 L528.75 454.55 L529.00 453.70 L529.25 452.66 L529.50 449.16 L529.75 451.61 L530.00 443.20 L530.25 449.03 L530.50 447.09 L530.75 447.51 L531.00 451.13 L531.25 444.92 L531.50 447.08 L531.75 453.66 L532.00 447.86 L532.25 449.35 L532.50 453.39 L532.75 454.10 L533.00 453.40 L533.25 452.03 L533.50 447.03 L533.75 446.80 L534.00 439.39 L534.25 423.82 L534.50 407.59 L534.52 407.51 L534.75 421.18 L535.00 437.96 L535.25 446.14 L535.50 450.04 L535.75 450.40 L536.00 449.07 L536.25 454.03 L536.50 451.52 L536.75 450.77 L537.00 449.83 L537.25 454.53 L537.50 454.67 L537.75 448.95 L538.00 449.71 L538.25 447.26 L538.50 452.48 L538.75 443.40 L539.00 452.12 L539.25 449.10 L539.50 444.68 L539.75 432.39 L540.00 394.79 L540.25 326.22 L540.50 230.50 L540.75 134.65 L541.00 80.35 L541.07 77.24 L541.25 95.77 L541.50 172.61 L541.75 273.14 L542.00 359.25 L542.25 413.16 L542.29 413.00 L542.50 417.15 L542.75 429.55 L543.00 442.53 L543.25 450.27 L543.50 451.09 L543.75 445.31 L544.00 450.86 L544.25 443.82 L544.50 451.44 L544.75 447.00 L545.00 450.95 L545.25 451.64 L545.50 448.51 L545.75 454.01 L546.00 454.31 L546.25 455.22 L546.50 446.97 L546.75 450.49 L547.00 451.59 L547.25 451.76 L547.50 453.52 L547.75 447.19 L548.00 447.43 L548.25 448.16 L548.50 450.68 L548.75 449.48 L549.00 449.26 L549.25 448.10 L549.50 449.68 L549.75 450.80 L550.00 447.19 L550.25 451.79 L550.50 447.66 L550.75 449.77 L551.00 454.40 L551.25 450.02 L551.50 447.09 L551.75 452.04 L552.00 448.80 L552.25 452.28 L552.50 446.66 L552.75 449.81 L553.00 451.10 L553.25 448.43 L553.50 447.54 L553.75 451.92 L554.00 448.64 L554.25 449.62 L554.50 448.02 L554.75 443.89 L555.00 439.31 L555.12 438.53 L555.25 439.41 L555.50 443.03 L555.75 439.28 L556.00 436.28 L556.25 434.22 L556.34 433.82 L556.50 434.99 L556.75 437.03 L557.00 440.32 L557.25 444.16 L557.50 441.54 L557.65 440.49 L557.75 440.97 L558.00 444.88 L558.25 448.86 L558.50 451.42 L558.75 450.46 L559.00 448.11 L559.25 453.85 L559.50 448.40 L559.75 453.47 L560.00 453.36 L560.25 450.34 L560.50 454.02 L560.75 451.33 L561.00 447.81 L561.25 447.42 L561.50 450.10 L561.75 454.26 L562.00 448.61 L562.25 447.09 L562.50 452.00 L562.75 455.32 L563.00 452.78 L563.25 443.05 L563.50 453.90 L563.75 447.82 L564.00 445.84 L564.25 444.26 L564.50 450.87 L564.75 445.25 L565.00 453.61 L565.25 454.33 L565.50 451.07 L565.75 452.50 L566.00 453.51 L566.25 451.32 L566.50 450.45 L566.75 450.23 L567.00 446.86 L567.25 440.39 L567.50 433.27 L567.58 432.64 L567.75 432.45 L568.00 411.26 L568.25 353.41 L568.50 263.31 L568.75 159.23 L569.00 81.08 L569.17 63.50 L569.25 67.45 L569.50 125.66 L569.75 225.62 L570.00 324.23 L570.25 394.23 L570.39 409.08 L570.50 410.89 L570.75 422.91 L571.00 434.66 L571.25 440.06 L571.50 436.57 L571.51 436.57 L571.75 439.56 L572.00 445.01 L572.25 449.00 L572.50 451.14 L572.75 452.66 L573.00 451.16 L573.25 453.37 L573.50 445.76 L573.75 452.46 L574.00 450.63 L574.25 452.97 L574.50 443.42 L574.75 450.84 L575.00 451.12 L575.25 450.89 L575.50 452.76 L575.75 453.12 L576.00 450.50 L576.25 452.61 L576.50 451.58 L576.75 453.02 L577.00 452.64 L577.25 453.58 L577.50 449.84 L577.75 453.43 L578.00 453.74 L578.25 448.91 L578.50 450.99 L578.75 447.10 L579.00 452.44 L579.25 453.51 L579.50 452.98 L579.75 453.08 L580.00 450.40 L580.25 447.86 L580.50 442.72 L580.69 440.49 L580.75 440.74 L581.00 445.27 L581.25 440.95 L581.50 435.92 L581.75 431.08 L582.00 424.07 L582.25 403.22 L582.38 398.47 L582.50 403.06 L582.75 423.89 L583.00 431.03 L583.25 435.87 L583.50 432.64 L583.75 437.86 L584.00 445.19 L584.25 449.59 L584.50 451.96 L584.75 450.76 L585.00 453.20 L585.25 454.04 L585.50 450.01 L585.75 452.81 L586.00 450.81 L586.25 450.01 L586.50 451.53 L586.75 451.87 L587.00 452.03 L587.25 449.52 L587.50 444.90 L587.75 438.44 L587.90 436.57 L588.00 437.39 L588.25 443.55 L588.50 441.47 L588.75 431.18 L589.00 411.30 L589.25 388.71 L589.31 387.48 L589.50 399.39 L589.75 404.46 L590.00 395.27 L590.24 374.91 L590.25 374.93 L590.50 386.58 L590.71 358.74 L590.75 347.36 L591.00 255.43 L591.25 152.33 L591.50 78.87 L591.65 65.46 L591.75 71.79 L592.00 134.89 L592.25 235.85 L592.50 332.23 L592.75 398.97 L592.87 397.30 L593.00 401.75 L593.25 420.97 L593.50 435.40 L593.75 436.27 L593.99 432.64 L594.00 432.65 L594.25 436.79 L594.50 443.28 L594.75 447.87 L595.00 450.06 L595.25 450.86 L595.50 453.33 L595.75 451.57 L596.00 448.35 L596.25 444.77 L596.33 442.48 L596.50 442.48 L596.75 449.65 L597.00 450.73 L597.25 448.06 L597.50 445.37 L597.75 442.87 L598.00 438.55 L598.02 438.53 L598.25 442.03 L598.50 445.03 L598.75 447.68 L599.00 449.71 L599.25 448.79 L599.50 445.03 L599.61 444.42 L599.75 445.39 L600.00 449.25 L600.25 451.30 L600.50 452.23 L600.75 453.77 L601.00 451.19 L601.25 447.67 L601.50 451.38 L601.75 453.52 L602.00 452.47 L602.25 452.20 L602.50 452.64 L602.75 452.62 L603.00 449.87 L603.25 444.03 L603.50 436.82 L603.54 436.57 L603.75 441.15 L604.00 443.68 L604.25 439.48 L604.50 435.74 L604.75 423.40 L604.95 416.14 L605.00 416.74 L605.25 429.72 L605.50 437.18 L605.75 441.21 L606.00 439.20 L606.17 436.57 L606.25 437.32 L606.50 444.14 L606.75 449.48 L607.00 452.21 L607.25 451.16 L607.50 451.13 L607.75 447.67 L608.00 444.50 L608.04 444.42 L608.25 445.66 L608.50 450.22 L608.75 450.16 L609.00 453.32 L609.25 450.26 L609.50 449.56 L609.75 445.68 L609.91 444.42 L610.00 444.82 L610.25 448.45 L610.50 451.63 L610.75 451.15 L611.00 450.41 L611.25 452.21 L611.50 451.09 L611.75 448.92 L612.00 444.06 L612.25 440.49 L612.25 440.49 L612.50 443.90 L612.75 448.80 L613.00 449.59 L613.25 448.96 L613.50 444.00 L613.75 433.68 L614.00 417.07 L614.13 413.00 L614.25 416.86 L614.50 433.46 L614.75 430.75 L615.00 427.03 L615.25 423.97 L615.50 421.85 L615.75 408.10 L615.81 401.12 L616.00 388.66 L616.25 408.08 L616.50 425.39 L616.75 428.82 L617.00 416.91 L617.12 413.00 L617.25 417.02 L617.50 433.63 L617.75 443.97 L618.00 445.95 L618.25 441.07 L618.34 440.49 L618.50 442.10 L618.75 447.28 L619.00 450.32 L619.25 452.90 L619.50 452.66 L619.75 450.27 L620.00 446.47 L620.22 444.42 L620.25 444.49 L620.50 447.61 L620.75 449.64 L621.00 449.31 L621.25 451.48 L621.50 444.58 L621.75 453.24 L622.00 447.27 L622.25 451.95 L622.50 450.92 L622.75 452.27 L623.00 451.74 L623.25 453.00 L623.50 452.62 L623.75 451.03 L624.00 450.53 L624.25 454.22 L624.50 450.70 L624.75 449.90 L625.00 452.23 L625.25 450.13 L625.50 450.66 L625.75 451.76 L626.00 451.20 L626.25 442.74 L626.50 447.37 L626.75 444.44 L626.77 444.42 L627.00 446.69 L627.25 450.36 L627.50 451.93 L627.75 450.59 L628.00 450.77 L628.25 447.01 L628.50 441.85 L628.64 440.49 L628.75 441.25 L629.00 446.24 L629.25 450.32 L629.50 449.48 L629.75 445.69 L630.00 438.59 L630.14 436.57 L630.25 437.76 L630.50 442.17 L630.75 440.61 L631.00 439.43 L631.25 438.71 L631.45 436.06 L631.50 433.58 L631.75 415.34 L631.92 407.51 L632.00 409.33 L632.25 427.45 L632.50 440.77 L632.75 444.65 L633.00 445.64 L633.25 440.91 L633.33 440.49 L633.50 442.37 L633.75 447.55 L634.00 450.90 L634.25 452.98 L634.50 452.94 L634.75 449.69 L635.00 452.25 L635.25 453.90 L635.50 453.56 L635.75 450.39 L636.00 450.91 L636.25 449.93 L636.50 451.49 L636.75 448.23 L637.00 444.70 L637.07 444.42 L637.25 445.88 L637.50 449.76 L637.75 452.38 L638.00 449.90 L638.25 452.55 L638.50 449.67 L638.75 450.44 L639.00 450.70 L639.25 447.47 L639.41 446.38 L639.50 446.69 L639.75 449.70 L640.00 452.36 L640.25 451.95 L640.50 451.26 L640.75 452.64 L641.00 448.77 L641.25 450.77 L641.50 447.14 L641.75 444.42 L641.76 444.42 L642.00 446.92 L642.25 444.91 L642.50 450.96 L642.75 451.77 L643.00 449.70 L643.25 452.20 L643.50 450.46 L643.75 450.58 L644.00 450.90 L644.25 447.32 L644.50 445.55 L644.75 441.37 L645.00 434.75 L645.03 434.60 L645.25 439.07 L645.50 444.87 L645.75 447.49 L646.00 449.94 L646.25 446.08 L646.44 444.42 L646.50 444.61 L646.75 448.01 L647.00 451.36 L647.25 451.07 L647.50 452.22 L647.75 447.50 L648.00 453.09 L648.25 451.05 L648.50 447.54 L648.75 444.47 L648.78 444.42 L649.00 446.53 L649.25 450.32 L649.50 452.55 L649.75 453.39 L650.00 451.73 L650.25 446.03 L650.50 446.47 L650.75 444.05 L651.00 436.29 L651.12 434.60 L651.25 436.41 L651.50 444.09 L651.75 446.52 L652.00 449.28 L652.25 447.48 L652.50 444.46 L652.53 444.42 L652.75 446.59 L653.00 450.36 L653.25 450.65 L653.50 453.83 L653.75 450.95 L654.00 451.11 L654.25 450.75 L654.50 450.30 L654.75 451.42 L655.00 450.69 L655.25 450.49 L655.50 446.56 L655.75 442.65 L655.81 442.46 L656.00 444.48 L656.25 448.97 L656.50 451.90 L656.75 452.35 L657.00 453.43 L657.25 447.37 L657.50 450.80 L657.75 447.06 L658.00 441.90 L658.15 440.49 L658.25 441.22 L658.50 446.18 L658.75 448.37 L659.00 445.35 L659.25 442.20 L659.50 439.37 L659.75 431.16 L660.00 420.94 L660.02 420.86 L660.25 428.95 L660.50 438.98 L660.75 441.70 L661.00 444.84 L661.25 447.66 L661.50 443.61 L661.75 435.09 L661.89 432.64 L662.00 434.05 L662.25 442.46 L662.50 448.53 L662.75 451.61 L663.00 452.13 L663.25 450.00 L663.50 445.82 L663.75 442.47 L663.77 442.46 L664.00 445.19 L664.25 447.54 L664.50 452.22 L664.75 452.55 L665.00 452.60 L665.25 453.57 L665.50 449.24 L665.75 442.66 L666.00 446.88 L666.11 446.38 L666.25 447.21 L666.50 450.42 L666.75 452.08 L667.00 450.07 L667.25 450.66 L667.50 450.84 L667.75 450.59 L668.00 449.76 L668.25 452.32 L668.50 449.64 L668.75 445.76 L668.92 444.42 L669.00 444.77 L669.25 448.36 L669.50 450.66 L669.75 453.37 L670.00 452.58 L670.25 453.49 L670.50 452.99 L670.75 452.88 L671.00 452.08 L671.25 450.96 L671.50 448.98 L671.75 443.93 L672.00 437.09 L672.20 430.78 L672.25 428.97 L672.50 420.64 L672.75 391.84 L673.00 343.73 L673.13 330.93 L673.25 341.16 L673.50 389.28 L673.75 415.28 L674.00 393.49 L674.07 391.80 L674.25 401.80 L674.50 424.70 L674.75 438.35 L675.00 445.24 L675.25 443.42 L675.47 440.49 L675.50 440.54 L675.75 444.54 L676.00 446.26 L676.25 449.90 L676.50 450.04 L676.75 450.80 L677.00 454.00 L677.25 451.43 L677.50 451.58 L677.75 451.08 L678.00 447.59 L678.25 444.48 L678.28 444.42 L678.50 446.49 L678.75 450.28 L679.00 451.37 L679.25 452.12 L679.50 452.10 L679.75 451.62 L680.00 452.67 L680.25 450.22 L680.50 447.04 L680.62 446.38 L680.75 447.03 L681.00 450.21 L681.25 452.67 L681.50 451.86 L681.75 452.26 L682.00 452.89 L682.25 450.31 L682.50 449.31 L682.75 444.89 L682.97 442.46 L683.00 442.52 L683.25 446.13 L683.50 450.21 L683.75 450.08 L684.00 450.42 L684.25 445.94 L684.50 438.85 L684.65 436.57 L684.75 437.56 L685.00 444.50 L685.25 443.84 L685.50 440.78 L685.75 435.40 L686.00 421.07 L686.15 416.54 L686.25 418.59 L686.50 432.65 L686.75 440.19 L687.00 443.17 L687.25 446.33 L687.50 441.95 L687.65 440.49 L687.75 441.18 L688.00 446.12 L688.25 450.25 L688.50 450.16 L688.75 450.62 L689.00 450.43 L689.25 451.62 L689.50 452.50 L689.75 452.68 L690.00 449.97 L690.25 448.02 L690.46 446.38 L690.50 446.45 L690.75 449.11 L691.00 451.50 L691.25 451.90 L691.50 450.26 L691.75 453.33 L692.00 445.49 L692.25 450.09 L692.50 452.21 L692.75 451.80 L693.00 448.83 L693.25 446.40 L693.27 446.38 L693.50 448.30 L693.75 451.42 L694.00 451.36 L694.25 450.55 L694.50 452.59 L694.75 451.34 L695.00 451.84 L695.25 448.81 L695.50 445.05 L695.61 444.42 L695.75 445.37 L696.00 449.23 L696.25 452.08 L696.50 452.30 L696.75 452.27 L697.00 450.46 L697.25 448.07 L697.50 445.22 L697.75 442.10 L698.00 430.44 L698.25 414.23 L698.33 412.61 L698.50 419.66 L698.75 432.82 L698.89 432.64 L699.00 432.75 L699.25 433.82 L699.50 435.87 L699.75 427.29 L699.83 426.35 L700.00 430.71 L700.25 441.37 L700.50 447.76 L700.75 448.55 L701.00 443.56 L701.23 440.49 L701.25 440.52 L701.50 444.40 L701.75 449.16 L702.00 450.32 L702.25 450.59 L702.50 453.23 L702.75 449.60 L703.00 452.14 L703.25 450.21 L703.50 453.59 L703.75 451.19 L704.00 450.80 L704.25 447.18 L704.50 444.42 L704.51 444.42 L704.75 446.89 L705.00 450.59 L705.25 450.89 L705.50 452.32 L705.75 452.94 L706.00 453.97 L706.25 453.12 L706.50 449.55 L706.75 451.44 L707.00 448.15 L707.25 444.67 L707.32 444.42 L707.50 445.96 L707.75 449.83 L708.00 452.42 L708.25 445.97 L708.50 451.93 L708.75 453.54 L709.00 453.96 L709.25 454.20 L709.50 449.71 L709.75 452.88 L710.00 450.96 L710.25 447.32 L710.50 443.02 L710.60 442.46 L710.75 443.79 L711.00 448.31 L711.25 442.67 L711.50 450.27 L711.75 449.41 L712.00 446.50 L712.25 444.68 L712.50 439.38 L712.75 433.42 L712.75 433.42 L713.00 439.32 L713.25 444.67 L713.50 446.94 L713.75 449.39 L714.00 448.53 L714.25 444.87 L714.34 444.42 L714.50 445.61 L714.75 449.49 L715.00 451.24 L715.25 453.72 L715.50 449.84 L715.75 451.08 L716.00 452.96 L716.25 452.01 L716.50 451.36 L716.75 450.13 L717.00 450.87 L717.25 448.96 L717.50 445.16 L717.62 444.42 L717.75 445.25 L718.00 447.42 L718.25 449.84 L718.50 453.49 L718.75 450.24 L719.00 449.02 L719.25 445.30 L719.50 436.94 L719.75 428.81 L719.77 428.71 L720.00 400.07 L720.25 339.80 L720.50 265.44 L720.75 209.18 L720.90 198.59 L721.00 203.46 L721.25 251.88 L721.50 325.68 L721.75 320.65 L721.84 318.76 L722.00 325.56 L722.25 356.70 L722.50 396.33 L722.75 424.86 L722.77 424.78 L723.00 430.78 L723.25 440.80 L723.50 447.00 L723.75 447.63 L724.00 442.46 L724.18 440.49 L724.25 440.86 L724.50 445.55 L724.75 449.90 L725.00 452.36 L725.25 451.52 L725.50 451.33 L725.75 451.71 L726.00 450.86 L726.25 450.41 L726.50 449.47 L726.75 446.20 L726.99 444.42 L727.00 444.43 L727.25 446.53 L727.50 449.77 L727.75 450.94 L728.00 451.59 L728.25 452.06 L728.50 451.19 L728.75 450.89 L729.00 452.49 L729.25 450.63 L729.50 448.53 L729.75 446.45 L729.80 446.38 L730.00 447.52 L730.25 450.04 L730.50 452.37 L730.75 452.47 L731.00 451.10 L731.25 451.09 L731.50 450.61 L731.75 452.96 L732.00 451.67 L732.25 449.20 L732.50 446.72 L732.61 446.38 L732.75 446.98 L733.00 449.61 L733.25 450.74 L733.50 450.84 L733.75 451.53 L734.00 452.55 L734.25 450.85 L734.50 450.56 L734.75 451.21 L735.00 448.60 L735.25 445.37 L735.42 444.42 L735.50 444.67 L735.75 447.49 L736.00 450.52 L736.25 451.94 L736.50 453.05 L736.75 450.61 L737.00 450.72 L737.25 450.80 L737.50 448.09 L737.75 446.38 L737.76 446.38 L738.00 447.92 L738.25 450.39 L738.50 451.48 L738.75 451.86 L739.00 450.62 L739.25 450.45 L739.50 451.61 L739.75 449.12 L740.00 446.68 L740.10 446.38 L740.25 447.04 L740.50 449.69 L740.75 452.00 L741.00 450.91 L741.25 451.46 L741.50 451.12 L741.75 452.43 L742.00 450.20 L742.25 446.73 L742.50 440.36 L742.75 427.87 L742.91 423.21 L743.00 424.87 L743.25 437.35 L743.50 445.73 L743.75 449.30 L744.00 448.89 L744.25 445.79 L744.31 445.60 L744.50 447.04 L744.75 450.52 L745.00 451.64 L745.25 452.73 L745.50 451.93 L745.75 449.91 L746.00 446.05 L746.19 444.42 L746.25 444.63 L746.50 448.05 L746.75 451.08 L747.00 451.79 L747.25 452.77 L747.50 452.11 L747.75 452.75 L748.00 452.04 L748.25 449.90 L748.50 448.37 L748.53 448.35 L748.75 449.40 L749.00 451.34 L749.25 451.85 L749.50 451.30 L749.75 450.72 L750.00 450.06 L750.25 452.65 L750.50 452.01 L750.75 451.77 L751.00 451.88 L751.25 450.45 L751.34 450.31 L751.50 450.76 L751.75 447.52 L752.00 451.57 L752.25 451.68 L752.50 451.74 L752.75 448.85 L753.00 450.87 L753.25 452.10 L753.50 451.98 L753.75 450.57 L754.00 448.86 L754.15 448.35 L754.25 448.59 L754.50 450.55 L754.75 452.01 L755.00 452.74 L755.25 450.48 L755.50 451.66 L755.75 452.74 L756.00 451.95 L756.25 451.77 L756.50 450.30 L756.75 447.57 L756.96 446.38 L757.00 446.44 L757.25 448.47 L757.50 451.11 L757.75 452.10 L758.00 452.79 L758.25 450.89 L758.50 451.90 L758.75 452.62 L759.00 450.77 L759.25 451.77 L759.50 449.80 L759.75 448.35 L759.77 448.35 L760.00 449.49 L760.25 450.32 L760.50 453.06 L760.75 450.67 L761.00 451.84 L761.25 447.81 L761.50 452.83 L761.75 450.48 L762.00 453.00 L762.25 451.76 L762.50 450.42 L762.58 450.31 L762.75 450.81 L763.00 450.36 L763.25 450.95 L763.50 449.30 L763.75 451.34 L764.00 450.74 L764.25 452.31 L764.50 451.53 L764.75 449.58 L765.00 452.21 L765.25 450.64 L765.39 450.31 L765.50 450.54 L765.75 451.89 L766.00 451.20 L766.25 452.81 L766.50 452.72 L766.75 452.25 L767.00 452.97 L767.25 451.42 L767.50 449.86 L767.73 448.35 L767.75 448.36 L768.00 450.31 L768.25 451.92 L768.50 452.44 L768.75 450.84 L769.00 450.79 L769.25 452.01 L769.50 450.52 L769.75 450.33 L770.00 451.69 L770.25 450.63 L770.50 445.88 L770.73 442.46 L770.75 442.50 L771.00 446.94 L771.25 450.81 L771.50 450.87 L771.75 450.83 L772.00 450.67 L772.25 447.44 L772.41 446.38 L772.50 446.72 L772.75 449.74 L773.00 452.39 L773.25 451.53 L773.50 453.04 L773.75 452.62 L774.00 452.81 L774.25 450.96 L774.50 451.04 L774.75 450.31 L774.75 450.31 L775.00 450.40 L775.25 451.93 L775.50 451.35 L775.75 452.20 L776.00 451.91 L776.25 450.74 L776.50 449.81 L776.75 452.70 L777.00 450.12 L777.25 451.71 L777.50 450.38 L777.56 450.31 L777.75 450.89 L778.00 451.57 L778.25 451.85 L778.50 450.53 L778.75 451.49 L779.00 451.70 L779.25 452.89 L779.50 452.84 L779.75 450.42 L780.00 451.40 L780.25 448.86 L780.37 448.35 L780.50 448.88 L780.75 450.10 L781.00 450.52 L781.25 451.13" fill="none" stroke="#000" stroke-width="1.6" stroke-linejoin="round"/>
<line x1="209.00" y1="213.00" x2="199.01" y2="259.21" stroke="#000" stroke-width="1.3"/><polygon points="197.00,268.50 195.23,256.35 203.63,258.17" fill="#000"/>
<line x1="118.00" y1="411.80" x2="125.32" y2="423.04" stroke="#000" stroke-width="1.3"/><polygon points="130.50,431.00 120.62,423.71 127.83,419.02" fill="#000"/>
<line x1="612.00" y1="48.50" x2="598.81" y2="59.44" stroke="#000" stroke-width="1.3"/><polygon points="591.50,65.50 597.61,54.85 603.10,61.47" fill="#000"/>
<line x1="501.25" y1="359.50" x2="527.36" y2="394.86" stroke="#000" stroke-width="1.3"/><polygon points="533.00,402.50 522.71,395.80 529.63,390.69" fill="#000"/>
<line x1="677.50" y1="293.00" x2="674.40" y2="318.57" stroke="#000" stroke-width="1.3"/><polygon points="673.25,328.00 670.37,316.07 678.90,317.10" fill="#000"/>
</svg>
<div style="position:absolute;left:0;top:0;width:800px;height:500px;filter:grayscale(1)">
<div class="t" style="font-size:17px;transform:matrix(1.0244,0,0,1.0267,58.28,5.75)">A. Syringe</div>
<div class="t" style="font-size:12.5px;transform:matrix(1.0260,0,0,0.9545,123.47,36.05)">d15:0 PtdGro, IS</div>
<div class="t" style="font-size:15px;transform:matrix(1.0278,0,0,1.0500,126.47,47.35)">693.5</div>
<div class="t" style="font-size:14px;transform:matrix(0,-1.0082,0.9917,0,130.32,237.01)">686.5<span style="font-size:0.82em;letter-spacing:0.068em"> (d16:1 PtdEtn, IS)</span></div>
<div class="t" style="font-size:14px;transform:matrix(0,-1.0029,1.0667,0,152.37,330.00)">708.5<span style="font-size:0.82em;letter-spacing:0.068em"> (d14:1 PtdCho/Cl<span class="sp">-</span>, IS)</span></div>
<div class="t" style="font-size:14px;transform:matrix(0,-1.0366,1.0250,0,169.75,387.64)">723.5<span style="font-size:0.82em;letter-spacing:0.068em"> (T18:2 CL)</span></div>
<div class="t" style="font-size:12.5px;transform:matrix(1.0364,0,0,0.8889,184.36,174.11)">16:0-18:1 PtdGro</div>
<div class="t" style="font-size:12.5px;transform:matrix(1.0265,0,0,0.9556,184.37,186.04)">&amp; tri18:2-22:6 CL</div>
<div class="t" style="font-size:15px;transform:matrix(1.0111,0,0,1.0000,187.59,197.00)">747.5</div>
<div class="t" style="font-size:12.5px;transform:matrix(1.0396,0,0,0.8889,215.46,225.11)">18:0-22:6 PtdEtn</div>
<div class="t" style="font-size:15px;transform:matrix(1.0194,0,0,1.0600,218.98,234.72)">790.5</div>
<div class="t" style="font-size:14px;transform:matrix(0,-1.0261,1.0000,0,201.90,376.93)">762.5<span style="font-size:0.82em;letter-spacing:0.068em"> (PtdEtn)</span></div>
<div class="t" style="font-size:14px;transform:matrix(0,-1.0398,1.0250,0,217.85,388.54)">774.5<span style="font-size:0.82em;letter-spacing:0.068em"> (PtdEtn)</span></div>
<div class="t" style="font-size:12.5px;transform:matrix(1.0377,0,0,0.8556,302.96,298.44)">18:0-20:4</div>
<div class="t" style="font-size:12.5px;transform:matrix(1.0081,0,0,0.9222,306.69,310.98)">PtdIns</div>
<div class="t" style="font-size:15px;transform:matrix(1.0222,0,0,1.0000,305.78,321.00)">885.5</div>
<div class="t" style="font-size:12.5px;transform:matrix(1.0516,0,0,1.0444,253.75,359.96)">PtdCho/Cl<span class="sp">-</span></div>
<div class="t" style="font-size:15px;transform:matrix(1.0139,0,0,0.9900,264.89,371.83)">840.5</div>
<div class="t" style="font-size:14px;transform:matrix(0,-1.0000,0.9833,0,69.53,385.60)">619.4<span style="font-size:0.82em;letter-spacing:0.068em"> (T14:0 CL, IS)</span></div>
<div class="t" style="font-size:14px;transform:matrix(0,-1.0021,0.9833,0,110.43,408.30)">678.5<span style="font-size:0.82em;letter-spacing:0.068em"> (d14:0 PtdSer, IS)</span></div>
<div class="t" style="font-size:17.5px;transform:matrix(0,-1.0989,1.0588,0,7.24,357.50)">Relative Intensity (%)</div>
<div class="t" style="font-size:19px;transform:matrix(1.0031,0,0,0.9000,207.80,477.30)"><i>m/z</i></div>
<div class="t" style="font-size:17px;transform:matrix(1.0147,0,0,0.9500,452.19,7.70)">B. Nanomate</div>
<div class="t" style="font-size:12.5px;transform:matrix(1.0404,0,0,1.0278,608.96,10.97)">16:0-18:1 PtdGro</div>
<div class="t" style="font-size:12.5px;transform:matrix(1.0408,0,0,1.0278,608.96,23.97)">&amp; tri18:2-22:6 CL</div>
<div class="t" style="font-size:15px;transform:matrix(1.0069,0,0,1.0750,612.74,34.77)">747.5</div>
<div class="t" style="font-size:12.5px;transform:matrix(1.0094,0,0,0.9778,544.50,35.52)">T18:2 CL</div>
<div class="t" style="font-size:15px;transform:matrix(1.0208,0,0,1.0250,550.98,46.17)">723.5</div>
<div class="t" style="font-size:15px;transform:matrix(1.0000,0,0,1.0000,521.00,62.00)">693.5</div>
<div class="t" style="font-size:15px;transform:matrix(0.9811,0,0,0.9300,458.62,78.51)">619.4</div>
<div class="t" style="font-size:12.5px;transform:matrix(0,-0.9958,0.9091,0,474.59,174.00)">T14:0 CL, IS</div>
<div class="t" style="font-size:12.5px;transform:matrix(0,-1.0021,0.9273,0,543.47,181.80)">d15:0 PtdGro, IS</div>
<div class="t" style="font-size:14px;transform:matrix(0,-1.0735,1.0000,0,521.00,200.07)">678.5</div>
<div class="t" style="font-size:12.5px;transform:matrix(0,-1.0430,0.9636,0,514.44,306.04)">d14:0 PtdSer, IS</div>
<div class="t" style="font-size:14px;transform:matrix(0,-1.0014,1.0000,0,490.80,355.00)">686.5<span style="font-size:0.82em;letter-spacing:0.068em"> (d16:1 PtdEtn, IS)</span></div>
<div class="t" style="font-size:14px;transform:matrix(0,-1.0667,1.0167,0,573.57,397.07)">737.6<span style="font-size:0.82em;letter-spacing:0.068em"> (CL)</span></div>
<div class="t" style="font-size:14px;transform:matrix(0,-1.0311,1.0167,0,608.57,385.03)">773.5<span style="font-size:0.82em;letter-spacing:0.068em"> (PtdGro)</span></div>
<div class="t" style="font-size:14px;transform:matrix(0,-1.0176,1.0167,0,625.17,405.82)">790.5<span style="font-size:0.82em;letter-spacing:0.068em"> (18:0-22:6 PtdEtn)</span></div>
<div class="t" style="font-size:12.5px;transform:matrix(1.0283,0,0,0.8889,656.97,254.11)">18:0-22:6</div>
<div class="t" style="font-size:12.5px;transform:matrix(1.0256,0,0,0.9722,660.22,266.53)">PtdSer</div>
<div class="t" style="font-size:15px;transform:matrix(1.0069,0,0,1.0000,660.24,277.00)">834.5</div>
<div class="t" style="font-size:12.5px;transform:matrix(1.0377,0,0,0.9167,698.96,157.83)">18:0-20:4</div>
<div class="t" style="font-size:12.5px;transform:matrix(1.0338,0,0,0.9722,702.72,170.28)">PtdIns</div>
<div class="t" style="font-size:15px;transform:matrix(1.0222,0,0,1.0100,702.38,180.87)">885.5</div>
<div class="t" style="font-size:14px;transform:matrix(0,-1.0276,1.0250,0,693.65,408.20)">861.5<span style="font-size:0.82em;letter-spacing:0.068em"> (PtdIns)</span></div>
<div class="t" style="font-size:17.5px;transform:matrix(0,-1.0989,1.0588,0,403.44,358.10)">Relative Intensity (%)</div>
<div class="t" style="font-size:19px;transform:matrix(0.9844,0,0,0.9231,602.50,476.93)"><i>m/z</i></div>
<div class="t" style="font-size:17px;transform:matrix(1.1625,0,0,1.0167,38.74,447.77)">0</div>
<div class="t" style="font-size:17px;transform:matrix(1.0882,0,0,1.0167,29.61,368.73)">20</div>
<div class="t" style="font-size:17px;transform:matrix(1.0278,0,0,1.0167,30.70,290.19)">40</div>
<div class="t" style="font-size:17px;transform:matrix(1.0882,0,0,1.0167,29.61,211.65)">60</div>
<div class="t" style="font-size:17px;transform:matrix(1.0882,0,0,1.0167,29.61,133.11)">80</div>
<div class="t" style="font-size:17px;transform:matrix(1.0074,0,0,1.0167,20.99,54.57)">100</div>
<div class="t" style="font-size:17px;transform:matrix(1.0148,0,0,0.9417,44.14,464.62)">600</div>
<div class="t" style="font-size:17px;transform:matrix(1.0148,0,0,0.9417,91.01,464.62)">650</div>
<div class="t" style="font-size:17px;transform:matrix(1.0148,0,0,0.9417,137.88,464.62)">700</div>
<div class="t" style="font-size:17px;transform:matrix(1.0148,0,0,0.9417,184.75,464.62)">750</div>
<div class="t" style="font-size:17px;transform:matrix(1.0148,0,0,0.9417,231.62,464.62)">800</div>
<div class="t" style="font-size:17px;transform:matrix(1.0148,0,0,0.9417,278.49,464.62)">850</div>
<div class="t" style="font-size:17px;transform:matrix(1.0148,0,0,0.9417,325.36,464.62)">900</div>
<div class="t" style="font-size:17px;transform:matrix(1.0148,0,0,0.9417,372.23,464.62)">950</div>
<div class="t" style="font-size:17px;transform:matrix(1.1625,0,0,1.0167,433.24,447.67)">0</div>
<div class="t" style="font-size:17px;transform:matrix(1.0882,0,0,1.0167,424.11,368.63)">20</div>
<div class="t" style="font-size:17px;transform:matrix(1.0278,0,0,1.0167,425.20,290.09)">40</div>
<div class="t" style="font-size:17px;transform:matrix(1.0882,0,0,1.0167,424.11,211.55)">60</div>
<div class="t" style="font-size:17px;transform:matrix(1.0882,0,0,1.0167,424.11,133.01)">80</div>
<div class="t" style="font-size:17px;transform:matrix(1.0074,0,0,1.0167,415.49,54.47)">100</div>
<div class="t" style="font-size:17px;transform:matrix(1.0148,0,0,0.9417,438.49,464.62)">600</div>
<div class="t" style="font-size:17px;transform:matrix(1.0148,0,0,0.9417,485.32,464.62)">650</div>
<div class="t" style="font-size:17px;transform:matrix(1.0148,0,0,0.9417,532.15,464.62)">700</div>
<div class="t" style="font-size:17px;transform:matrix(1.0148,0,0,0.9417,578.98,464.62)">750</div>
<div class="t" style="font-size:17px;transform:matrix(1.0148,0,0,0.9417,625.81,464.62)">800</div>
<div class="t" style="font-size:17px;transform:matrix(1.0148,0,0,0.9417,672.64,464.62)">850</div>
<div class="t" style="font-size:17px;transform:matrix(1.0148,0,0,0.9417,719.47,464.62)">900</div>
<div class="t" style="font-size:17px;transform:matrix(1.0148,0,0,0.9417,766.30,464.62)">950</div>
</div>
</body></html>
